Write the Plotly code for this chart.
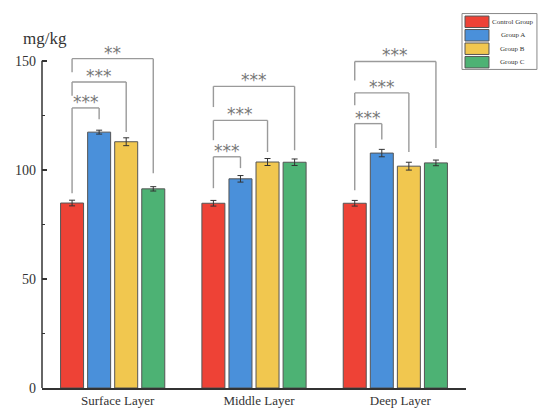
import plotly.graph_objects as go

# ---------------- data ----------------
layers = ["Surface Layer", "Middle Layer", "Deep Layer"]
groups = ["Control Group", "Group A", "Group B", "Group C"]
control = [84.8, 84.7, 84.7]
group_a = [117.3, 95.9, 107.7]
group_b = [112.9, 103.6, 101.7]
group_c = [91.3, 103.5, 103.2]
err_control = [1.3, 1.3, 1.3]
err_a = [0.9, 1.5, 1.7]
err_b = [1.8, 1.6, 1.8]
err_c = [1.0, 1.5, 1.3]
colors = ["#EE4236", "#4A90DA", "#F1C74F", "#4DB274"]
y_ticks = [0, 50, 100, 150]

# significance brackets: control vs group A / B / C within each layer
sig_labels = [["***", "***", "**"], ["***", "***", "***"], ["***", "***", "***"]]
bracket_top = [[128.4, 140.3, 151.0], [106.0, 122.7, 138.3], [121.2, 135.3, 149.7]]
bracket_left_end = [[89.3, 134.0, 144.8], [91.6, 113.6, 128.8], [90.7, 129.6, 141.0]]
bracket_right_end = [[123.2, 117.4, 98.5], [100.8, 108.2, 109.0], [113.9, 108.2, 110.0]]

series = [control, group_a, group_b, group_c]
errors = [err_control, err_a, err_b, err_c]

BARGAP = 0.234
slot = (1 - BARGAP) / len(groups)
FONT = "Liberation Serif"

fig = go.Figure()
xs = list(range(len(layers)))
for name, vals, errs, col in zip(groups, series, errors, colors):
    fig.add_trace(go.Bar(
        x=xs, y=vals, name=name,
        marker=dict(color=col, line=dict(color="#555555", width=1)),
        error_y=dict(type="data", array=errs, visible=True,
                     color="#333333", thickness=1, width=3),
        showlegend=False,
    ))

shapes = []
annotations = []
LINE = dict(color="#9A9A9A", width=1.4)
for i in range(len(layers)):
    x_ctrl = i + (0 - 1.5) * slot
    for k in range(3):
        x_other = i + (k + 1 - 1.5) * slot
        top = bracket_top[i][k]
        shapes.append(dict(type="line", xref="x", yref="y", x0=x_ctrl, x1=x_ctrl,
                           y0=bracket_left_end[i][k], y1=top, line=LINE))
        shapes.append(dict(type="line", xref="x", yref="y", x0=x_ctrl, x1=x_other,
                           y0=top, y1=top, line=LINE))
        shapes.append(dict(type="line", xref="x", yref="y", x0=x_other, x1=x_other,
                           y0=top, y1=bracket_right_end[i][k], line=LINE))
        annotations.append(dict(x=(x_ctrl + x_other) / 2, y=top, xref="x", yref="y",
                                text=sig_labels[i][k], showarrow=False,
                                yanchor="middle", yshift=6,
                                font=dict(family="DejaVu Sans", size=17, color="#777777")))

# y axis line only up to the last tick
shapes.append(dict(type="line", xref="x domain", yref="y", x0=0, x1=0,
                   y0=0, y1=y_ticks[-1], line=dict(color="#333333", width=1.5)))

# unit label
annotations.append(dict(x=0.008, y=y_ticks[-1], xref="x domain", yref="y",
                        text="mg/kg", showarrow=False, xanchor="center",
                        yanchor="bottom", yshift=11,
                        font=dict(family=FONT, size=17, color="#333333")))

# legend box (paper coordinates, outside plot at top right)
L, T = 462, 13
W_PLOT, H_PLOT, ML, MT = 424.3, 349.8, 41.7, 38.5
def px(x):
    return (x - ML) / W_PLOT
def py(y):
    return 1 - (y - MT) / H_PLOT
shapes.append(dict(type="rect", xref="paper", yref="paper",
                   x0=px(L), x1=px(537), y0=py(T), y1=py(69),
                   line=dict(color="#888888", width=1), fillcolor="white"))
for r, (name, col) in enumerate(zip(groups, colors)):
    yt = T + 2.5 + r * 13.5
    shapes.append(dict(type="rect", xref="paper", yref="paper",
                       x0=px(465), x1=px(489), y0=py(yt), y1=py(yt + 11.5),
                       line=dict(color="#555555", width=1), fillcolor=col))
    annotations.append(dict(x=px(513), y=py(yt + 5.75), xref="paper", yref="paper",
                            text=name, showarrow=False, xanchor="center",
                            yanchor="middle",
                            font=dict(family=FONT, size=7, color="#333333")))

fig.update_layout(
    width=550, height=419,
    margin=dict(l=ML, r=550 - ML - W_PLOT, t=MT, b=419 - MT - H_PLOT, autoexpand=False),
    paper_bgcolor="white", plot_bgcolor="white",
    barmode="group", bargap=BARGAP, bargroupgap=0.15,
    shapes=shapes, annotations=annotations,
    font=dict(family=FONT, color="#333333"),
)
fig.update_xaxes(
    range=[-0.5, 2.5], tickvals=xs, ticktext=layers, automargin=False,
    showline=True, linecolor="#333333", linewidth=1.5,
    ticks="", showgrid=False, zeroline=False,
    tickfont=dict(family=FONT, size=13, color="#333333"),
    ticklabelshift=5, ticklabelstandoff=0,
)
fig.update_yaxes(
    range=[0, 160], tickvals=y_ticks, automargin=False,
    showline=False, showgrid=False, zeroline=False,
    ticks="inside", ticklen=5, tickwidth=1.5, tickcolor="#333333",
    minor=dict(tickvals=[25, 75, 125], ticks="inside", ticklen=3,
               tickwidth=1, tickcolor="#333333"),
    tickfont=dict(family=FONT, size=14, color="#333333"),
    ticklabelstandoff=5,
)

fig.write_html("out.html", config={"displayModeBar": False},
               post_script="document.body.style.margin='0';document.body.style.overflow='hidden';")
